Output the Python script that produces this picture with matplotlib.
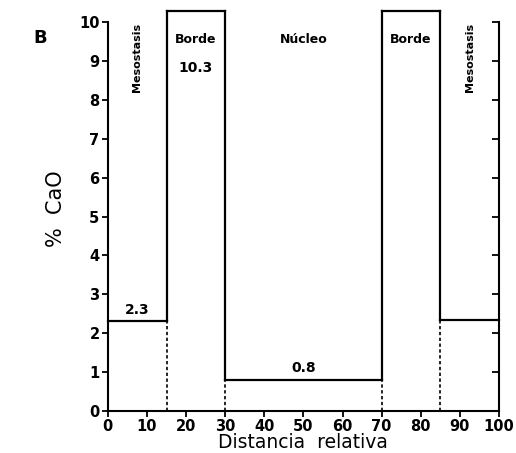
import matplotlib
matplotlib.use('Agg')
import matplotlib.pyplot as plt

# Zone limits (relative distance) and CaO content of each zone
edges = [0, 15, 30, 70, 85, 100]
cao = [2.3, 10.3, 0.8, 10.3, 2.35]
zones = ['Mesostasis', 'Borde', 'Núcleo', 'Borde', 'Mesostasis']
value_labels = ['2.3', '10.3', '0.8', '', '']

fig = plt.figure(figsize=(5.16, 4.53), dpi=100)
ax = fig.add_axes([0.209, 0.093, 0.758, 0.858])

lw = 1.6
# horizontal tops of each zone
for i in range(len(cao)):
    ax.plot([edges[i], edges[i + 1]], [cao[i], cao[i]], color='black', lw=lw, clip_on=False)

# inner boundaries: solid between the two levels, dashed below
for i in range(1, len(edges) - 1):
    lo = min(cao[i - 1], cao[i])
    hi = max(cao[i - 1], cao[i])
    ax.plot([edges[i], edges[i]], [lo, hi], color='black', lw=lw, clip_on=False)
    ax.plot([edges[i], edges[i]], [0, lo], color='black', lw=1.2, ls=(0, (2, 1.5)))

# zone names
for i, name in enumerate(zones):
    xc = (edges[i] + edges[i + 1]) / 2
    if name == 'Mesostasis':
        ax.text(xc, 9.98, name, rotation=90, ha='center', va='top',
                fontsize=8, fontweight='bold')
    else:
        ax.text(xc, 9.55, name, ha='center', va='center', fontsize=9, fontweight='bold')

# values
for i, lab in enumerate(value_labels):
    if not lab:
        continue
    xc = (edges[i] + edges[i + 1]) / 2
    if cao[i] > 10:
        ax.text(xc, 8.82, lab, ha='center', va='center', fontsize=10, fontweight='bold')
    else:
        ax.text(xc, cao[i] + 0.3, lab, ha='center', va='center', fontsize=10, fontweight='bold')

ax.set_xlim(0, 100)
ax.set_ylim(0, 10)
ax.set_xticks(range(0, 101, 10))
ax.set_yticks(range(0, 11))
ax.spines['top'].set_visible(False)
ax.spines['right'].set_visible(False)
for s in ['left', 'bottom']:
    ax.spines[s].set_linewidth(1.5)

ax.tick_params(axis='both', direction='out', length=4, width=1.3, labelsize=10.5)
ax.tick_params(axis='x', pad=2)
ax.tick_params(axis='y', pad=2)
for lab in ax.get_xticklabels() + ax.get_yticklabels():
    lab.set_fontweight('bold')

# right axis: ticks pointing inward, no labels
rax = ax.twinx()
rax.set_ylim(0, 10)
rax.set_yticks(range(0, 11))
for s in ['top', 'left', 'bottom']:
    rax.spines[s].set_visible(False)
rax.spines['right'].set_linewidth(1.5)
rax.tick_params(axis='y', direction='in', length=5, width=1.3, labelright=False)

ax.set_xlabel('Distancia  relativa', fontsize=13.5)
ax.xaxis.set_label_coords(0.5, -0.058)
ax.set_ylabel('%  CaO', fontsize=15)
ax.yaxis.set_label_coords(-0.107, 0.52)

fig.text(0.078, 0.916, 'B', fontsize=13, fontweight='bold', ha='center', va='center')

fig.savefig('out.png', dpi=100)
